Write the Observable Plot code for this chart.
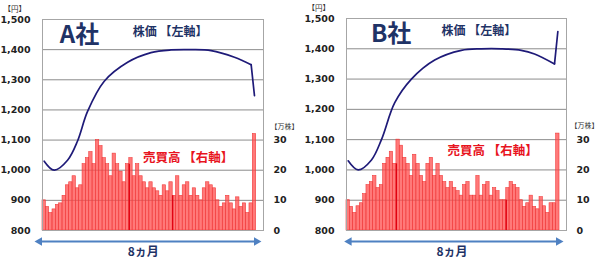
<!DOCTYPE html>
<html>
<head>
<meta charset="utf-8">
<script src="https://cdn.jsdelivr.net/npm/d3@7"></script>
<script src="https://cdn.jsdelivr.net/npm/@observablehq/plot@0.6"></script>
<style>
  html, body { margin: 0; padding: 0; background: #fff; }
  #wrap { position: relative; width: 600px; height: 259px; overflow: hidden; }
  #wrap > div { position: absolute; top: 0; }
</style>
</head>
<body>
<div id="wrap"><div id="a" style="left:0"></div><div id="b" style="left:300px"></div></div>
<script>
// ---- data ----
const companies = ["A社", "B社"];
const priceTicks = [800, 900, 1000, 1100, 1200, 1300, 1400, 1500];
const volumeTicks = [0, 10, 20, 30];
const durationLabel = "8ヵ月";

// trading volume (万株), one bar per period
const volumeA = [10,7.8,5.8,7,8.5,9,11.5,15,16,18,14,15,22,24,26,22,30,28,24,22,18,25.5,22,19.5,16,22,24,18,22,18,16,14,16,14,13,11.5,15,13,16,11.5,18,11.5,15,16,11.5,14,11.5,10,14,16,15,14,10,7.8,9,11.5,9,7,11,7.8,9,5.8,9,32];
const volumeB = [10,7.8,5.8,8,9,12,15,16,18,14,15,22,24,26,22,30,28,24,22,18,25,22,18,16,22,24,18,22,18,16,14,16,14,13,11.5,15,16,11.5,11.5,18,11.5,15,16,11.5,14,13,10,10,14,16,15,14,10,7.8,9,11.5,7.8,7,11,8,5.8,9,9,32];

// share price (円) read at selected periods
const priceIdxA = [0,3,7,10,13,18,25,32,38,44,50,57,62,63];
const priceA    = [1030,1000,1033,1097,1195,1295,1358,1390,1399,1400,1397,1375,1350,1247];
const priceIdxB = [0,3,7,10,14,19,26,34,40,46,52,56,62,63];
const priceB    = [1030,1000,1033,1100,1222,1300,1363,1395,1400,1400,1395,1383,1350,1457];

// period boundaries drawn as darker red dividers
const dividersA = [25.5, 38.5];
const dividersB = [14.5, 47.5];

// ---- helpers ----
const base = 800, perUnit = 10;              // right axis: 0 -> 800, 10 -> 900 ...
const toPrice = v => base + v * perUnit;
const toVol = p => (p - base) / perUnit;
const navy = "#1f3366", red = "#e8141e", lineColor = "#1e1a78", arrowColor = "#4f81c2";
const jp = "'Noto Sans CJK JP', sans-serif";

function chart(o) {
  const bars = o.volume.map((v, i) => ({i, v}));
  const price = o.priceIdx.map((i, k) => ({i, p: o.price[k]}));
  const divs = o.dividers.map(x => ({x, v: Math.min(o.volume[Math.floor(x)], o.volume[Math.ceil(x)])}));
  const lineStyle = {x: "i", y: "p", stroke: lineColor, strokeWidth: 1.7};
  return Plot.plot({
    width: 300, height: 259,
    marginTop: o.mt, marginBottom: 29, marginLeft: o.ml, marginRight: o.mr,
    style: {fontFamily: "'DejaVu Sans', sans-serif", fontSize: "9.5px", fontWeight: "bold", color: "#222", background: "transparent"},
    x: {type: "linear", domain: [-0.5, o.xmax], axis: null},
    y: {domain: [800, 1500], axis: null},
    marks: [
      Plot.gridY(priceTicks, {stroke: "#8c8c8c", strokeOpacity: 1, strokeWidth: 1}),
      Plot.rect(bars, {x1: d => d.i - 0.5, x2: d => d.i + 0.5, y1: base, y2: d => toPrice(d.v),
        fill: "#ff4c4c", fillOpacity: 0.75, stroke: "#f03a3a", strokeWidth: 0.6}),
      Plot.ruleX(divs, {x: "x", y1: base, y2: d => toPrice(d.v), stroke: "#e00010", strokeWidth: 1.3}),
      Plot.frame({stroke: "#a6a6a6"}),
      Plot.axisY(priceTicks, {anchor: "left", tickSize: 0, tickPadding: 12, tickFormat: d3.format(","), label: null, fill: "#222"}),
      Plot.axisY(volumeTicks.map(toPrice), {anchor: "right", tickSize: 0, tickPadding: 10, tickFormat: d => toVol(d), label: null, fill: "#222"}),
      Plot.line(price.slice(0, -1), {...lineStyle, curve: "catmull-rom"}),
      Plot.line(price.slice(-2), {...lineStyle, curve: "linear"}),
      Plot.text([o.name], {x: o.nameX, y: 1447, text: d => d, fontFamily: jp, fontSize: 24, fontWeight: "bold", fill: navy}),
      Plot.text(["株価 【左軸】"], {x: o.priceLabelX, y: 1457, text: d => d, fontFamily: jp, fontSize: 12, fontWeight: "bold", fill: navy}),
      Plot.text(["売買高 【右軸】"], {x: o.volLabelX, y: o.volLabelY, text: d => d, fontFamily: jp, fontSize: 12.5, fontWeight: "bold", fill: red}),
      Plot.text(["【円】"], {frameAnchor: "top-left", dx: -o.ml + o.yenDx, dy: -13, text: d => d, textAnchor: "start", fontFamily: jp, fontSize: 7.5, fontWeight: "normal", fill: "#333"}),
      Plot.text(["【万株】"], {frameAnchor: "top-right", dx: o.manDx, dy: 105, text: d => d, textAnchor: "start", fontFamily: jp, fontSize: 7, fontWeight: "normal", fill: "#333"}),
      Plot.link([o.arrow], {x1: d => d[0], x2: d => d[1], y1: 763.5, y2: 763.5, stroke: arrowColor, strokeWidth: 2}),
      Plot.dot([o.arrow[0]], {x: d => d, y: 763.5, symbol: "triangle", rotate: -90, r: 3.2, fill: arrowColor, stroke: "none", dx: 2}),
      Plot.dot([o.arrow[1]], {x: d => d, y: 763.5, symbol: "triangle", rotate: 90, r: 3.2, fill: arrowColor, stroke: "none", dx: -2}),
      Plot.text([durationLabel], {x: o.durX, y: 727, text: d => d, fontFamily: jp, fontSize: 12, fontWeight: "bold", fill: navy})
    ]
  });
}

document.getElementById("a").append(chart({
  name: companies[0], volume: volumeA, priceIdx: priceIdxA, price: priceA, dividers: dividersA,
  mt: 19, ml: 42, mr: 37, xmax: 65.7, nameX: 10.6, priceLabelX: 37.7, volLabelX: 43.1, volLabelY: 1042,
  yenDx: 3, manDx: 7, arrow: [-2, 64.2], durX: 29.7
}));
document.getElementById("b").append(chart({
  name: companies[1], volume: volumeB, priceIdx: priceIdxB, price: priceB, dividers: dividersB,
  mt: 18, ml: 46, mr: 34, xmax: 65.6, nameX: 12.9, priceLabelX: 39.3, volLabelX: 43.4, volLabelY: 1062,
  yenDx: 7, manDx: 4, arrow: [-0.3, 63.8], durX: 31.2
}));
</script>
</body>
</html>
